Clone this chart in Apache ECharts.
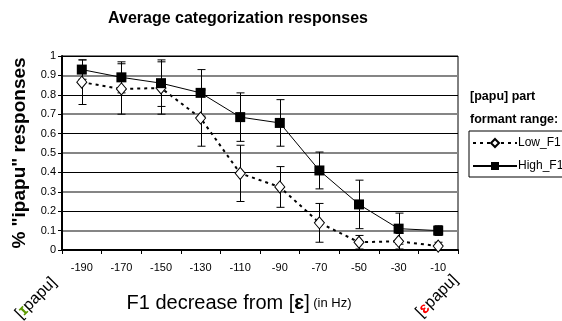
<!DOCTYPE html>
<html><head><meta charset="utf-8">
<script src="https://cdn.jsdelivr.net/npm/echarts@6/dist/echarts.min.js"></script>
<style>html,body{margin:0;padding:0;background:#fff}#c{width:562px;height:321px}</style>
</head><body><div id="c"></div>
<script>
const categories = ['-190','-170','-150','-130','-110','-90','-70','-50','-30','-10'];
const lowF1 = [0.865, 0.83, 0.835, 0.68, 0.395, 0.325, 0.14, 0.04, 0.045, 0.02];
const lowErr = [0.115, 0.13, 0.135, 0.145, 0.145, 0.105, 0.1, 0.035, 0.04, 0.02];
const highF1 = [0.93, 0.89, 0.86, 0.81, 0.685, 0.655, 0.41, 0.235, 0.11, 0.10];
const highErr = [0.05, 0.08, 0.12, 0.12, 0.125, 0.12, 0.095, 0.125, 0.08, 0.025];
const yTicks = [0, 0.1, 0.2, 0.3, 0.4, 0.5, 0.6, 0.7, 0.8, 0.9, 1];

const font = 'Liberation Sans, Arial, sans-serif';
const chart = echarts.init(document.getElementById('c'));

function errData(vals, errs) {
  return vals.map((v, i) => [i, Math.max(0, v - errs[i]), Math.min(1, v + errs[i])]);
}
function errRender(params, api) {
  const i = api.value(0);
  const lo = api.coord([i, api.value(1)]);
  const hi = api.coord([i, api.value(2)]);
  const x = Math.round(lo[0]) + 0.5;
  const hw = 4;
  const st = { stroke: '#000', lineWidth: 1 };
  return { type: 'group', children: [
    { type: 'line', shape: { x1: x, y1: lo[1], x2: x, y2: hi[1] }, style: st },
    { type: 'line', shape: { x1: x - hw, y1: lo[1], x2: x + hw, y2: lo[1] }, style: st },
    { type: 'line', shape: { x1: x - hw, y1: hi[1], x2: x + hw, y2: hi[1] }, style: st }
  ]};
}

chart.setOption({
  animation: false,
  grid: { left: 62, right: 104, top: 56, bottom: 71, show: true, borderColor: '#000', borderWidth: 1 },
  xAxis: {
    type: 'category', data: categories, boundaryGap: true,
    axisLine: { lineStyle: { color: '#000', width: 2 } },
    axisTick: { show: true, length: 4, lineStyle: { color: '#000' } },
    axisLabel: { color: '#000', fontFamily: font, fontSize: 11, margin: 12 }
  },
  yAxis: [{
    type: 'value', min: 0, max: 1, interval: 0.1,
    axisLine: { show: true, lineStyle: { color: '#000', width: 2 } },
    axisTick: { show: true, length: 4, lineStyle: { color: '#000' } },
    axisLabel: { color: '#000', fontFamily: font, fontSize: 11, margin: 6,
      formatter: v => { const t = yTicks.find(k => Math.abs(k - v) < 1e-6); return t === undefined ? '' : String(+t.toFixed(1)); } },
    splitLine: { show: true, lineStyle: { color: ['#000', 'rgba(0,0,0,0)'], width: 1 } },
    name: '% "ipapu" responses', nameLocation: 'middle', nameGap: 33,
    nameTextStyle: { color: '#000', fontFamily: font, fontSize: 19, fontWeight: 'bold' }
  }, {
    type: 'value', min: 0, max: 1, interval: 0.1, position: 'left',
    axisLine: { show: false }, axisTick: { show: false }, axisLabel: { show: false },
    splitLine: { show: true, lineStyle: { color: ['rgba(0,0,0,0)', '#858585'], width: 2 } }
  }],
  legend: {
    orient: 'vertical', left: 469, top: 131, data: ['Low_F1', 'High_F1'],
    borderColor: '#000', borderWidth: 1, padding: [6, 20, 5, 3], itemGap: 11,
    itemWidth: 44, itemHeight: 10,
    textStyle: { color: '#000', fontFamily: font, fontSize: 12, padding: [0, 0, 0, -4] }
  },
  graphic: [
    { type: 'text', x: 238, y: 19, style: { text: 'Average categorization responses', fill: '#000',
      font: 'bold 16px ' + font, align: 'center', verticalAlign: 'middle' } },
    { type: 'text', x: 470, y: 97, style: { text: '[papu] part', fill: '#000', font: 'bold 12.5px ' + font, verticalAlign: 'middle' } },
    { type: 'text', x: 470, y: 120, style: { text: 'formant range:', fill: '#000', font: 'bold 12.5px ' + font, verticalAlign: 'middle' } },
    { type: 'text', x: 239, y: 303, style: {
      text: '{a|F1 decrease from [}{b|ɛ}{a|]} {c|(in Hz)}', align: 'center', verticalAlign: 'middle',
      rich: { a: { fontSize: 20, fontFamily: font, fill: '#000' },
              b: { fontSize: 20, fontFamily: font, fontWeight: 'bold', fill: '#000' },
              c: { fontSize: 13, fontFamily: font, fill: '#000' } } } },
    { type: 'text', x: 36, y: 298, rotation: Math.PI / 4, style: {
      text: '{a|[}{g|ɪ}{a|papu]}', align: 'center', verticalAlign: 'middle',
      rich: { a: { fontSize: 16, fontFamily: font, fill: '#000' },
              g: { fontSize: 16, fontFamily: font, fontWeight: 'bold', fill: '#5c9a00' } } } },
    { type: 'text', x: 437, y: 296, rotation: Math.PI / 4, style: {
      text: '{a|[}{r|ɛ}{a|papu]}', align: 'center', verticalAlign: 'middle',
      rich: { a: { fontSize: 16, fontFamily: font, fill: '#000' },
              r: { fontSize: 16, fontFamily: font, fontWeight: 'bold', fill: '#ff0000' } } } }
  ],
  series: [
    { type: 'custom', name: 'lowErr', renderItem: errRender, data: errData(lowF1, lowErr), z: 2, silent: true },
    { type: 'custom', name: 'highErr', renderItem: errRender, data: errData(highF1, highErr), z: 2, silent: true },
    { type: 'line', name: 'Low_F1', data: lowF1, z: 3,
      symbol: 'diamond', symbolSize: [10, 12],
      lineStyle: { color: '#000', width: 2, type: [3, 4] },
      itemStyle: { color: '#fff', borderColor: '#000', borderWidth: 1 } },
    { type: 'line', name: 'High_F1', data: highF1, z: 4,
      symbol: 'rect', symbolSize: 10,
      lineStyle: { color: '#000', width: 1 },
      itemStyle: { color: '#000', borderColor: '#000', borderWidth: 0 } }
  ]
});
</script></body></html>
